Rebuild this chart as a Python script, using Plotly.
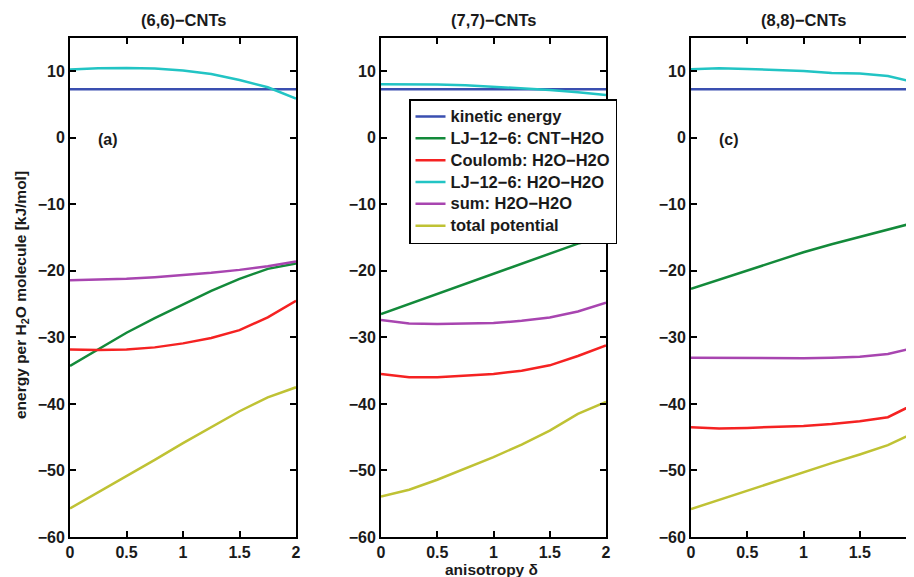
import plotly.graph_objects as go

anisotropy = [0, 0.25, 0.5, 0.75, 1.0, 1.25, 1.5, 1.75, 2.0]

series_names = ["kinetic energy", "LJ\u221212\u22126: CNT\u2212H2O", "Coulomb: H2O\u2212H2O",
                "LJ\u221212\u22126: H2O\u2212H2O", "sum: H2O\u2212H2O", "total potential"]
series_colors = ["#3a4fb0", "#138a3a", "#f52222", "#22c4c4", "#a845b0", "#bfc234"]
panel_titles = ["(6,6)\u2212CNTs", "(7,7)\u2212CNTs", "(8,8)\u2212CNTs"]

# (6,6)-CNTs
kin_66 = [7.3, 7.3, 7.3, 7.3, 7.3, 7.3, 7.3, 7.3, 7.3]
ljcnt_66 = [-34.3, -31.8, -29.3, -27.1, -25.0, -23.0, -21.2, -19.7, -18.9]
coul_66 = [-31.8, -31.9, -31.8, -31.5, -30.9, -30.1, -28.9, -27.0, -24.5]
ljww_66 = [10.25, 10.45, 10.5, 10.4, 10.1, 9.6, 8.7, 7.6, 5.9]
sum_66 = [-21.4, -21.35, -21.2, -20.95, -20.65, -20.3, -19.85, -19.3, -18.6]
tot_66 = [-55.7, -53.3, -50.9, -48.4, -45.9, -43.5, -41.1, -39.0, -37.5]

# (7,7)-CNTs
kin_77 = [7.3, 7.3, 7.3, 7.3, 7.3, 7.3, 7.3, 7.3, 7.3]
ljcnt_77 = [-26.5, -25.0, -23.5, -21.9, -20.4, -18.9, -17.4, -15.9, -15.0]
coul_77 = [-35.5, -36.0, -36.0, -35.8, -35.5, -35.0, -34.2, -32.8, -31.2]
ljww_77 = [8.05, 8.05, 8.0, 7.9, 7.7, 7.45, 7.2, 6.85, 6.45]
sum_77 = [-27.4, -27.9, -28.0, -27.95, -27.85, -27.5, -27.0, -26.1, -24.8]
tot_77 = [-53.9, -52.9, -51.4, -49.7, -48.0, -46.1, -44.0, -41.5, -39.7]

# (8,8)-CNTs
kin_88 = [7.3, 7.3, 7.3, 7.3, 7.3, 7.3, 7.3, 7.3, 7.3]
ljcnt_88 = [-22.7, -21.3, -20.0, -18.6, -17.2, -16.0, -14.9, -13.9, -12.7]
coul_88 = [-43.5, -43.7, -43.6, -43.5, -43.3, -43.0, -42.6, -42.0, -39.9]
ljww_88 = [10.3, 10.45, 10.35, 10.2, 10.05, 9.75, 9.65, 9.3, 8.3]
sum_88 = [-33.05, -33.1, -33.15, -33.15, -33.15, -33.05, -32.9, -32.5, -31.5]
tot_88 = [-55.8, -54.4, -53.0, -51.6, -50.3, -48.9, -47.6, -46.2, -44.2]

panels = [
    [kin_66, ljcnt_66, coul_66, ljww_66, sum_66, tot_66],
    [kin_77, ljcnt_77, coul_77, ljww_77, sum_77, tot_77],
    [kin_88, ljcnt_88, coul_88, ljww_88, sum_88, tot_88],
]
panel_labels = ["(a)", None, "(c)"]

y_ticks = [-60, -50, -40, -30, -20, -10, 0, 10]
x_ticks = [0, 0.5, 1, 1.5, 2]

FONT = "Liberation Sans, Arial, Helvetica, sans-serif"
TXT = "#1a1a1a"

fig = go.Figure()
for p, data in enumerate(panels):
    xa = "x" if p == 0 else f"x{p+1}"
    ya = "y" if p == 0 else f"y{p+1}"
    for i, ys in enumerate(data):
        fig.add_trace(go.Scatter(
            x=anisotropy, y=ys, mode="lines",
            name='<span style="font-size:16.5px">' + series_names[i] + "</span>",
            line=dict(color=series_colors[i], width=2.5),
            xaxis=xa, yaxis=ya, showlegend=(p == 0), cliponaxis=True))

# page offset (body margin) compensation
OFF = 8
W, H = 914 - OFF, 577 - OFF
ml = 70 - OFF
mt = 38 - OFF
mr = 0
mb = H - (537 - OFF)
pw = W - ml - mr
ph = H - mt - mb

def px_to_paper_x(px):
    return (px - OFF - ml) / pw

def px_to_paper_y(py):
    return (H - mb - (py - OFF)) / ph

domains = [
    [0.0, px_to_paper_x(296)],
    [px_to_paper_x(381), px_to_paper_x(606)],
    [px_to_paper_x(691), 1.0],
]
x_end3 = 2 * (914 - 691) / (606 - 381)

tickfont = dict(family=FONT, size=16, color=TXT, weight="bold")
layout = dict(
    width=W, height=H,
    margin=dict(l=ml, r=mr, t=mt, b=mb, autoexpand=False),
    paper_bgcolor="white", plot_bgcolor="white",
    showlegend=True,
    legend=dict(x=px_to_paper_x(409), y=px_to_paper_y(99), xanchor="left", yanchor="top",
                bgcolor="white", bordercolor="black", borderwidth=1.5,
                font=dict(family=FONT, size=14.5, color=TXT, weight="bold"),
                tracegroupgap=0),
)
for p in range(3):
    xk = "xaxis" if p == 0 else f"xaxis{p+1}"
    yk = "yaxis" if p == 0 else f"yaxis{p+1}"
    xr = [0, 2] if p < 2 else [0, x_end3]
    layout[xk] = dict(domain=domains[p], range=xr, tickvals=x_ticks,
                      anchor="y" if p == 0 else f"y{p+1}",
                      showline=True, linecolor="black", linewidth=2, mirror="ticks",
                      ticks="inside", ticklen=6, tickwidth=1.5, tickcolor="black",
                      showgrid=False, zeroline=False, tickfont=tickfont, fixedrange=True)
    layout[yk] = dict(domain=[0, 1], range=[-60, 15], tickvals=y_ticks,
                      anchor="x" if p == 0 else f"x{p+1}",
                      showline=True, linecolor="black", linewidth=2,
                      mirror="ticks" if p < 2 else False,
                      ticks="inside", ticklen=6, tickwidth=1.5, tickcolor="black",
                      showgrid=False, zeroline=False, tickfont=tickfont, fixedrange=True)
fig.update_layout(**layout)

annotations = []
centers = [(70 + 296) / 2, (381 + 606) / 2, (691 + 916) / 2]
for p in range(3):
    annotations.append(dict(text=panel_titles[p], xref="paper", yref="paper",
                            x=px_to_paper_x(centers[p]), y=px_to_paper_y(20),
                            xanchor="center", yanchor="middle", showarrow=False,
                            font=dict(family=FONT, size=16.5, color=TXT, weight="bold")))
    if panel_labels[p]:
        annotations.append(dict(text=panel_labels[p],
                                xref="x" if p == 0 else f"x{p+1}",
                                yref="y" if p == 0 else f"y{p+1}",
                                x=0.34, y=-0.3, xanchor="center", yanchor="middle",
                                showarrow=False,
                                font=dict(family=FONT, size=16, color=TXT, weight="bold")))
annotations.append(dict(text="energy per H<sub>2</sub>O molecule [kJ/mol]",
                        xref="paper", yref="paper", x=px_to_paper_x(21), y=px_to_paper_y(295),
                        xanchor="center", yanchor="middle", textangle=-90, showarrow=False,
                        font=dict(family=FONT, size=15.5, color=TXT, weight="bold")))
annotations.append(dict(text="anisotropy \u03b4",
                        xref="paper", yref="paper", x=px_to_paper_x(491), y=px_to_paper_y(569),
                        xanchor="center", yanchor="middle", showarrow=False,
                        font=dict(family=FONT, size=15.5, color=TXT, weight="bold")))
fig.update_layout(annotations=annotations)

fig.write_html("out.html")
